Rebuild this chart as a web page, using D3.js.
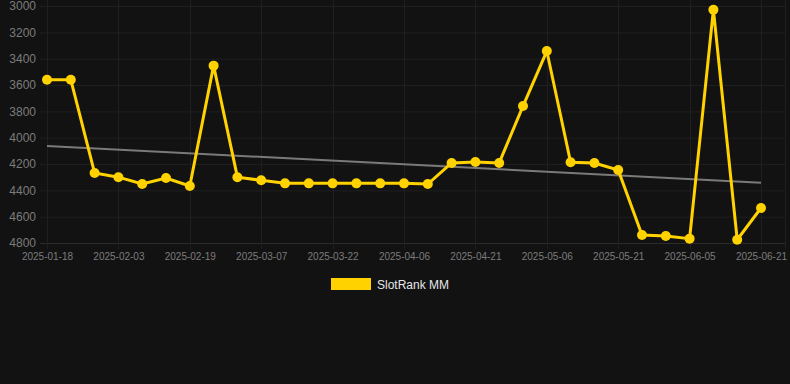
<!DOCTYPE html>
<html>
<head>
<script src="https://d3js.org/d3.v7.js"></script>
<style>
  body { margin: 0; background: #121212; }
  svg { display: block; font-family: "Liberation Sans", Arial, sans-serif; }
  .grid line { stroke: #1f1f1f; stroke-width: 1; }
  .tick text { fill: #7c7c7c; }
</style>
</head>
<body>
<script>
// categories (weekly-ish snapshots); every third one is labelled on the axis
const dates = [
  '2025-01-18','2025-01-23','2025-01-28','2025-02-03','2025-02-08','2025-02-13',
  '2025-02-19','2025-02-24','2025-03-02','2025-03-07','2025-03-12','2025-03-17',
  '2025-03-22','2025-03-27','2025-04-01','2025-04-06','2025-04-11','2025-04-16',
  '2025-04-21','2025-04-26','2025-05-01','2025-05-06','2025-05-11','2025-05-16',
  '2025-05-21','2025-05-26','2025-05-31','2025-06-05','2025-06-10','2025-06-15',
  '2025-06-21'
]
const rankValues = [
  3560, 3560, 4268, 4300, 4352, 4306, 4367, 3453, 4300, 4324, 4347,
  4347, 4347, 4347, 4347, 4347, 4352, 4192, 4185, 4192, 3760, 3342,
  4187, 4192, 4246, 4739, 4747, 4767, 3028, 4775, 4534
]
const trendValues = [4063, 4342]
const yTicks = [3000, 3200, 3400, 3600, 3800, 4000, 4200, 4400, 4600, 4800]
const seriesName = 'SlotRank MM'

const w = 790
const h = 384
const plotLeft = 40, plotRight = 786, plotTop = 6, plotBottom = 243

const svg = d3.select('body').append('svg')
    .attr('width', w)
    .attr('height', h)

const x = d3.scalePoint()
    .domain(dates)
    .range([47, 761])

const y = d3.scaleLinear()
    .domain([3000, 4800])
    .range([plotTop, plotBottom])

const labelled = dates.filter((d, i) => i % 3 === 0)

// horizontal grid
svg.append('g')
    .attr('class', 'grid')
    .selectAll('line')
    .data(yTicks)
    .enter()
    .append('line')
    .attr('x1', plotLeft).attr('x2', plotRight)
    .attr('y1', d => y(d) + 0.5).attr('y2', d => y(d) + 0.5)
    .style('stroke', d => d === 4800 ? '#2c2c2c' : null)

// vertical grid
svg.append('g')
    .attr('class', 'grid')
    .selectAll('line')
    .data(labelled.concat(['end']))
    .enter()
    .append('line')
    .attr('x1', d => d === 'end' ? plotRight - 0.5 : Math.round(x(d)) + 0.5)
    .attr('x2', d => d === 'end' ? plotRight - 0.5 : Math.round(x(d)) + 0.5)
    .attr('y1', 0).attr('y2', plotBottom + 6)

const yAxis = d3.axisLeft(y)
    .tickValues(yTicks)
    .tickFormat(d3.format('d'))
    .tickSize(0)
    .tickPadding(4)

svg.append('g')
    .attr('transform', `translate(${plotLeft},0)`)
    .call(yAxis)
    .call(g => g.select('.domain').remove())
    .selectAll('text')
    .style('font-size', '12px')

const xAxis = d3.axisBottom(x)
    .tickValues(labelled)
    .tickSize(0)
    .tickPadding(10)

svg.append('g')
    .attr('transform', `translate(0,${plotBottom})`)
    .call(xAxis)
    .call(g => g.select('.domain').remove())
    .selectAll('text')
    .style('font-size', '10px')

// trend line
svg.append('line')
    .attr('x1', x(dates[0])).attr('x2', x(dates[dates.length - 1]))
    .attr('y1', y(trendValues[0])).attr('y2', y(trendValues[1]))
    .attr('stroke', '#7a7a7a')
    .attr('stroke-width', 2)

const line = d3.line()
    .x((d, i) => x(dates[i]))
    .y(d => y(d))

svg.append('path')
    .datum(rankValues)
    .attr('d', line)
    .attr('fill', 'none')
    .attr('stroke', '#ffd200')
    .attr('stroke-width', 3)
    .attr('stroke-linejoin', 'miter')

svg.append('g')
    .selectAll('circle')
    .data(rankValues)
    .enter()
    .append('circle')
    .attr('cx', (d, i) => x(dates[i]))
    .attr('cy', d => y(d))
    .attr('r', 5)
    .attr('fill', '#ffd200')

// legend
const legend = svg.append('g').attr('transform', 'translate(331,278)')
legend.append('rect')
    .attr('width', 40)
    .attr('height', 12)
    .attr('fill', '#ffd200')
legend.append('text')
    .attr('x', 46)
    .attr('y', 10.5)
    .attr('fill', '#e6e6e6')
    .style('font-size', '12px')
    .text(seriesName)
</script>
</body>
</html>
